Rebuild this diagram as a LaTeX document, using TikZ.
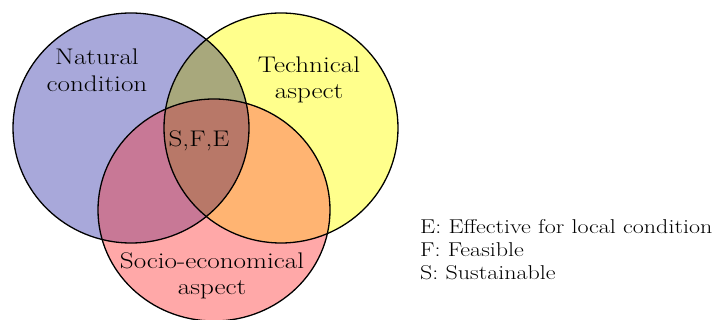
\documentclass[tikz,border=0pt]{standalone}
\usepackage{fontspec}
\setmainfont{Latin Modern Roman}[FakeStretch=1.2]
\usepackage{xcolor}
\usepackage{tikz}
\definecolor{natc}{HTML}{A8A8DA}
\definecolor{tecc}{HTML}{FFFF8C}
\definecolor{socc}{HTML}{FFA8A8}
\definecolor{ntc}{HTML}{A8A87C}
\definecolor{nsc}{HTML}{C87896}
\definecolor{tsc}{HTML}{FFB472}
\definecolor{allc}{HTML}{B87868}
\tikzset{
  rim/.style={draw=black,line width=1.3pt},
  lb/.style={font=\fontsize{22.6}{27}\selectfont,inner sep=0pt,anchor=base},
  lg/.style={font=\fontsize{20}{23}\selectfont,inner sep=0pt,anchor=base west}
}
\newcommand{\setN}{(131,128) ellipse [x radius=118,y radius=115]}
\newcommand{\setT}{(281,128) ellipse [x radius=117,y radius=115]}
\newcommand{\setS}{(214,210) ellipse [x radius=116,y radius=111]}

\begin{document}
\begin{tikzpicture}[x=1pt,y=-1pt]
\useasboundingbox (0,0) rectangle (716,320);
% the three sets
\fill[natc] \setN;
\fill[tecc] \setT;
\fill[socc] \setS;
% overlaps
\begin{scope}\clip \setN; \fill[ntc] \setT; \end{scope}
\begin{scope}\clip \setN; \fill[nsc] \setS; \end{scope}
\begin{scope}\clip \setT; \fill[tsc] \setS; \end{scope}
\begin{scope}\clip \setN; \clip \setT; \fill[allc] \setS; \end{scope}
\draw[rim] \setN;
\draw[rim] \setT;
\draw[rim] \setS;
% labels
\node[lb] (natA) at (97,65) {Natural};
\node[lb] (natB) at (97,92) {condition};
\node[lb] (tecA) at (309,73) {Technical};
\node[lb] (tecB) at (309,99) {aspect};
\node[lb] (core) at (199,147) {S,F,E};
\node[lb] (socA) at (212,269) {Socio-economical};
\node[lb] (socB) at (212,295) {aspect};
% key
\node[lg] (keyE) at (420,234) {E: Effective for local condition};
\node[lg] (keyF) at (420,257) {F: Feasible};
\node[lg] (keyS) at (420,280) {S: Sustainable};
\end{tikzpicture}
\end{document}
